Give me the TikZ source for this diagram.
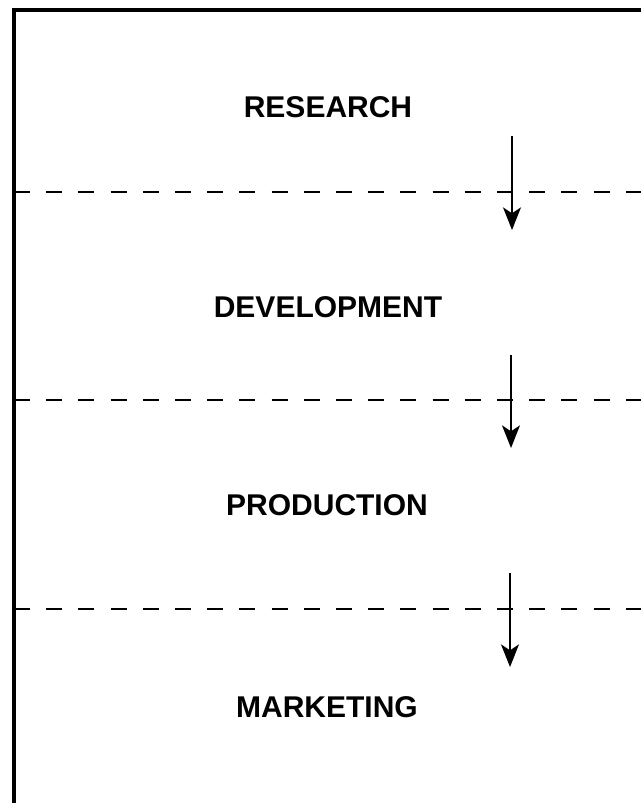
\documentclass[tikz,border=0pt]{standalone}
\usepackage{fontspec}
\setsansfont{Liberation Sans}
\usetikzlibrary{arrows.meta}
\tikzset{
  stage/.style={font=\sffamily\bfseries\fontsize{22.5}{27}\selectfont,inner sep=0pt},
  divider/.style={line width=2pt,dash pattern=on 12pt off 12.15pt},
  flow/.style={line width=1.4pt,-{Stealth[length=17pt,width=13.5pt,inset=4.5pt]}}
}
\begin{document}
\begin{tikzpicture}[x=0.75pt,y=-0.75pt,font=\sffamily]
    \useasboundingbox (0,0) rectangle (640,803);
    \draw [line width=2.8pt] (642,10) -- (14,10) -- (14,805);
    \foreach \y in {192,400,609}
        \draw [divider] (14,\y) -- (642,\y);
    \node [stage] (research) at (328,107) {RESEARCH};
    \node [stage] (development) at (328,307) {DEVELOPMENT};
    \node [stage] (production) at (327,505) {PRODUCTION};
    \node [stage] (marketing) at (327,707) {MARKETING};
    % arrow ends between the stages
    \coordinate (research-out) at (512,136);
    \coordinate (development-in) at (512,230);
    \coordinate (development-out) at (511,355);
    \coordinate (production-in) at (511,448);
    \coordinate (production-out) at (510,573);
    \coordinate (marketing-in) at (510,667);
    \draw [flow] (research-out) -- (development-in);
    \draw [flow] (development-out) -- (production-in);
    \draw [flow] (production-out) -- (marketing-in);
\end{tikzpicture}
\end{document}
